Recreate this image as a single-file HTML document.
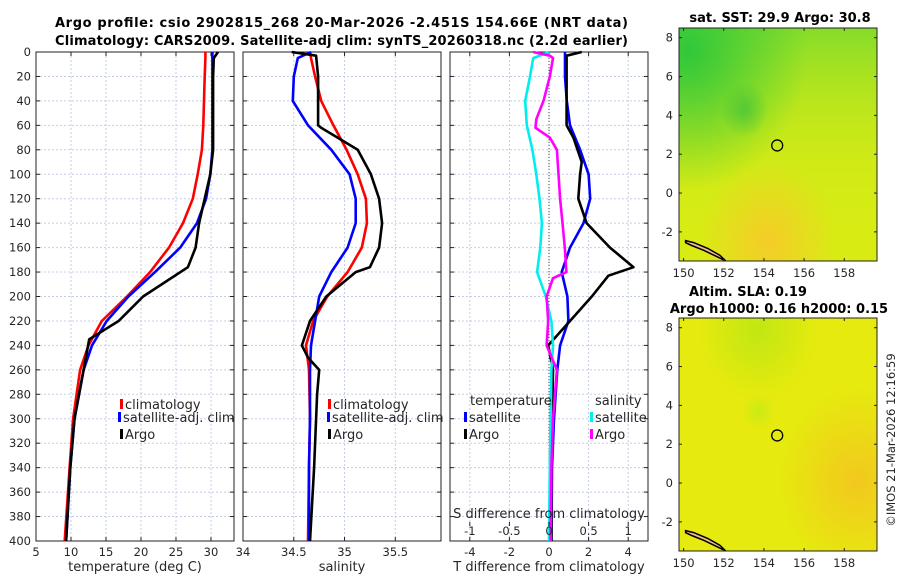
<!DOCTYPE html>
<html><head><meta charset="utf-8">
<style>
html,body{margin:0;padding:0;background:#fff;}
svg{display:block;font-family:"DejaVu Sans","Liberation Sans",sans-serif;}
.tk{font-size:11.5px;fill:#262626;}
.ttl{font-size:13px;font-weight:bold;fill:#000;}
</style></head><body>
<svg id="fig" width="900" height="580" viewBox="0 0 900 580" xmlns="http://www.w3.org/2000/svg">
<defs>
<linearGradient id="g1v" x1="0" y1="0" x2="0" y2="1"><stop offset="0" stop-color="#70d830" stop-opacity="0.8"/><stop offset="0.55" stop-color="#b8e41c" stop-opacity="0.3"/><stop offset="1" stop-color="#d8ec14" stop-opacity="0"/></linearGradient>
<radialGradient id="g1a" cx="0.05" cy="0.1" r="0.6"><stop offset="0" stop-color="#30c83a"/><stop offset="1" stop-color="#30c83a" stop-opacity="0"/></radialGradient>
<radialGradient id="g1b" cx="0.45" cy="0.92" r="0.35"><stop offset="0" stop-color="#f5cc28"/><stop offset="1" stop-color="#f5cc28" stop-opacity="0"/></radialGradient>
<radialGradient id="g1c" cx="0.33" cy="0.35" r="0.12"><stop offset="0" stop-color="#48c43a" stop-opacity="0.8"/><stop offset="1" stop-color="#48c43a" stop-opacity="0"/></radialGradient>
<radialGradient id="g2a" cx="0.9" cy="0.7" r="0.4"><stop offset="0" stop-color="#f2c81e"/><stop offset="1" stop-color="#f2c81e" stop-opacity="0"/></radialGradient>
<radialGradient id="g2b" cx="0.4" cy="0.05" r="0.3"><stop offset="0" stop-color="#b8e614" stop-opacity="0.8"/><stop offset="1" stop-color="#b8e614" stop-opacity="0"/></radialGradient>
<radialGradient id="g2c" cx="0.4" cy="0.4" r="0.08"><stop offset="0" stop-color="#c4ea18" stop-opacity="0.8"/><stop offset="1" stop-color="#c4ea18" stop-opacity="0"/></radialGradient>
</defs>
<text class="ttl" x="55" y="27" textLength="573">Argo profile: csio 2902815_268 20-Mar-2026 -2.451S 154.66E (NRT data)</text>
<text class="ttl" x="55" y="45" textLength="573">Climatology: CARS2009. Satellite-adj clim: synTS_20260318.nc (2.2d earlier)</text>
<g id="panels"></g>
<g id="maps"></g>
<text class="tk" transform="translate(895,440) rotate(-90)" text-anchor="middle">©IMOS 21-Mar-2026 12:16:59</text>
</svg>
<script>
// ---- data ----
const depths = [0,5,20,40,60,80,100,120,140,160,180,200,220,240,260,300,340,400];
const tempClim = [29.2,29.2,29.1,29.0,28.9,28.7,28.1,27.4,26.0,24.0,21.3,18.0,14.4,12.5,11.3,10.3,9.8,9.1];
const tempSat  = [30.2,30.2,30.2,30.2,30.2,30.2,29.9,29.3,28.0,25.6,22.0,18.2,15.1,13.0,11.8,10.5,9.9,9.3];
const argoTDepths = [0,5,20,40,60,80,100,140,160,176,200,220,235,260,300,340,400];
const tempArgo = [31.0,30.4,30.3,30.3,30.3,30.3,29.9,28.3,27.8,26.7,20.3,16.8,12.6,11.8,10.5,9.9,9.3];
const salClim = [34.66,34.67,34.71,34.77,34.89,35.02,35.13,35.21,35.22,35.17,35.03,34.83,34.69,34.62,34.65,34.66,34.65,34.64];
const salSat  = [34.67,34.54,34.50,34.49,34.64,34.87,35.05,35.11,35.11,35.03,34.87,34.75,34.71,34.67,34.66,34.66,34.65,34.65];
const argoSDepths = [0,3,20,40,60,62,80,100,120,140,160,176,180,200,220,240,250,260,280,300,340,400];
const salArgo = [34.48,34.72,34.74,34.74,34.74,34.77,35.13,35.26,35.34,35.37,35.34,35.25,35.11,34.82,34.66,34.58,34.64,34.75,34.73,34.72,34.70,34.66];
const dTSat = [0.81,0.81,0.81,0.9,1.06,1.57,2.0,2.08,1.74,1.06,0.64,0.93,0.98,0.56,0.42,0.25,0.15,0.12];
const dTArgoDepths = [0,3,20,40,60,70,90,100,120,140,160,176,183,200,220,240,260,300,340,400];
const dTArgo = [1.65,0.89,0.89,0.89,0.89,1.23,1.65,1.57,1.48,1.9,3.08,4.27,3.0,2.16,1.06,-0.04,0.2,0.15,0.12,0.12];
const dSSat = [0.0,-0.2,-0.24,-0.30,-0.28,-0.21,-0.16,-0.12,-0.09,-0.11,-0.15,-0.04,0.03,0.05,0.03,0.02,0.01,0.0];
const dSArgoDepths = [0,3,5,20,40,55,62,70,80,100,120,140,160,180,185,200,220,240,260,300,340,400];
const dSArgo = [-0.2,0.01,0.05,0.01,-0.07,-0.16,-0.17,0.01,0.10,0.12,0.14,0.17,0.20,0.22,0.05,-0.03,-0.01,-0.03,0.10,0.05,0.03,0.02];
const depthTicks = [0,20,40,60,80,100,120,140,160,180,200,220,240,260,280,300,320,340,360,380,400];
const tTicks = [5,10,15,20,25,30];
const sTicks = [34,34.5,35,35.5];
const dtTicks = [-4,-2,0,2,4];
const dsTicks = [-1,-0.5,0,0.5,1];
const lonTicks = [150,152,154,156,158];
const latTicks = [-2,0,2,4,6,8];
const argoLon = 154.66, argoLat = 2.451;

const NS="http://www.w3.org/2000/svg";
function mk(tag,attrs,parent,txt){const e=document.createElementNS(NS,tag);for(const k in attrs)e.setAttribute(k,attrs[k]);if(txt!==undefined)e.textContent=txt;parent.appendChild(e);return e;}
const P=document.getElementById('panels');
const Y0=52,Y1=541;
const yD=d=>Y0+(d/400)*(Y1-Y0);

function panel(name,x0,x1,vmin,vmax,ticks,labelFmt,xlabel,showY){
  const g=mk('g',{},P);
  
  
  const xs=v=>x0+(v-vmin)/(vmax-vmin)*(x1-x0);
  depthTicks.forEach(d=>{const l=mk('line',{x1:x0,x2:x1,y1:yD(d),y2:yD(d),stroke:'#c5cde6','stroke-width':1,'stroke-dasharray':'2,2'},g);
    
    mk('line',{x1:x0,x2:x0+4,y1:yD(d),y2:yD(d),stroke:'#222'},g);mk('line',{x1:x1-4,x2:x1,y1:yD(d),y2:yD(d),stroke:'#222'},g);
    if(showY){const t=mk('text',{x:x0-5,y:yD(d)+4,'text-anchor':'end',class:'tk'},g,String(d));}
  });
  ticks.forEach(v=>{const x=xs(v);
    const l=mk('line',{x1:x,x2:x,y1:Y0,y2:Y1,stroke:'#c5cde6','stroke-width':1,'stroke-dasharray':'2,2'},g);
    
    mk('line',{x1:x,x2:x,y1:Y0,y2:Y0+4,stroke:'#222'},g);mk('line',{x1:x,x2:x,y1:Y1-4,y2:Y1,stroke:'#222'},g);
    if(labelFmt){const t=mk('text',{x:x,y:Y1+15,'text-anchor':'middle',class:'tk'},g,labelFmt(v));}
  });
  const r=mk('rect',{x:x0,y:Y0,width:x1-x0,height:Y1-Y0,fill:'none',stroke:'#222','stroke-width':1},g);
  
  const xl=mk('text',{x:(x0+x1)/2,y:571,'text-anchor':'middle',class:'tk',style:'font-size:13px'},g,xlabel);
  
  return {g,xs};
}
function line(p,vals,ds,color,name){
  const pts=vals.map((v,i)=>p.xs(v).toFixed(1)+','+yD(ds[i]).toFixed(1)).join(' ');
  const l=mk('polyline',{points:pts,fill:'none',stroke:color,'stroke-width':2.6,'stroke-linejoin':'round'},p.g);
  
}
function legend(g,x,y,color,label){
  mk('rect',{x:x,y:y-10,width:3,height:10,fill:color},g);
  const t=mk('text',{x:x+5,y:y,class:'tk',style:'font-size:13px'},g,label);
  
}
// panel 1
const p1=panel('temperature-panel',36,234,5,33.29,tTicks,v=>String(v),'temperature (deg C)',true);
line(p1,tempClim,depths,'#ff0000','temp-climatology-line');
line(p1,tempSat,depths,'#0000ff','temp-satellite-line');
line(p1,tempArgo,argoTDepths,'#000','temp-argo-line');
legend(p1.g,120,409,'#ff0000','climatology');legend(p1.g,118,422,'#0000ff','satellite-adj. clim');legend(p1.g,120,439,'#000','Argo');
// panel 2
const p2=panel('salinity-panel',243,441,34,35.95,sTicks,v=>String(v),'salinity',false);
line(p2,salClim,depths,'#ff0000','sal-climatology-line');
line(p2,salSat,depths,'#0000ff','sal-satellite-line');
line(p2,salArgo,argoSDepths,'#000','sal-argo-line');
legend(p2.g,328,409,'#ff0000','climatology');legend(p2.g,327,422,'#0000ff','satellite-adj. clim');legend(p2.g,328,439,'#000','Argo');
// panel 3
const p3=panel('difference-panel',450,648,-5,5,dtTicks,v=>String(v),'T difference from climatology',false);
const zl=mk('line',{x1:p3.xs(0),x2:p3.xs(0),y1:Y0,y2:Y1,stroke:'#444','stroke-width':1,'stroke-dasharray':'1,2'},p3.g);

const sx=v=>p3.xs(v*4);
line(p3,dTSat,depths,'#0000ff','dT-satellite-line');
line(p3,dTArgo,dTArgoDepths,'#000','dT-argo-line');
line({g:p3.g,xs:sx},dSSat,depths,'#00eeee','dS-satellite-line');
line({g:p3.g,xs:sx},dSArgo,dSArgoDepths,'#ff00ff','dS-argo-line');
dsTicks.forEach(v=>{const x=sx(v);mk('line',{x1:x,x2:x,y1:522,y2:526,stroke:'#222'},p3.g);
  const t=mk('text',{x:x,y:535,'text-anchor':'middle',class:'tk'},p3.g,String(v));});
const st=mk('text',{x:549,y:518,'text-anchor':'middle',class:'tk',style:'font-size:13px'},p3.g,'S difference from climatology');

const tl=mk('text',{x:470,y:405,class:'tk',style:'font-size:13px'},p3.g,'temperature');
const sl=mk('text',{x:595,y:405,class:'tk',style:'font-size:13px'},p3.g,'salinity');
legend(p3.g,464,422,'#0000ff','satellite');legend(p3.g,464,439,'#000','Argo');
legend(p3.g,590,422,'#00eeee','satellite');legend(p3.g,590,439,'#ff00ff','Argo');

// maps
const M=document.getElementById('maps');
function map(name,x0,y0,x1,y1,base,grads,titles){
  const g=mk('g',{},M);
  
  const lx=v=>x0+(v-149.77)/(159.63-149.77)*(x1-x0);
  const ly=v=>y0+(8.5-v)/12*(y1-y0);
  mk('rect',{x:x0,y:y0,width:x1-x0,height:y1-y0,fill:base},g);
  grads.forEach(id=>mk('rect',{x:x0,y:y0,width:x1-x0,height:y1-y0,fill:'url(#'+id+')'},g));
  const coast=[[150.1,-2.45],[150.5,-2.55],[151.2,-2.85],[151.8,-3.2],[152.1,-3.5],[151.7,-3.3],[151.0,-2.95],[150.4,-2.7],[150.1,-2.55]];
  const c=mk('polygon',{points:coast.map(p=>lx(p[0]).toFixed(1)+','+ly(p[1]).toFixed(1)).join(' '),fill:'#f0b890',stroke:'#000','stroke-width':1.5},g);
  
  const ci=mk('circle',{cx:lx(argoLon),cy:ly(argoLat),r:5.5,fill:'none',stroke:'#000','stroke-width':1.3},g);
  
  mk('rect',{x:x0,y:y0,width:x1-x0,height:y1-y0,fill:'none',stroke:'#222'},g);
  lonTicks.forEach(v=>{const x=lx(v);mk('line',{x1:x,x2:x,y1:y1,y2:y1-3,stroke:'#222'},g);mk('line',{x1:x,x2:x,y1:y0,y2:y0+3,stroke:'#222'},g);
    const t=mk('text',{x:x,y:y1+16,'text-anchor':'middle',class:'tk'},g,String(v));});
  latTicks.forEach(v=>{const y=ly(v);mk('line',{x1:x0,x2:x0+3,y1:y,y2:y,stroke:'#222'},g);mk('line',{x1:x1-3,x2:x1,y1:y,y2:y,stroke:'#222'},g);
    const t=mk('text',{x:x0-6,y:y+4,'text-anchor':'end',class:'tk'},g,String(v));});
  titles.forEach(tt=>{const t=mk('text',{x:tt[0],y:tt[1],'text-anchor':'middle',class:'ttl'},g,tt[2]);});
}
map('sst-map',679,28,877,261,'#d8ec14',['g1v','g1a','g1b','g1c'],[[780,22,'sat. SST: 29.9 Argo: 30.8']]);
map('sla-map',679,318,877,551,'#e6ea0e',['g2a','g2b','g2c'],[[748,296,'Altim. SLA: 0.19'],[779,313,'Argo h1000: 0.16 h2000: 0.15']]);
</script>
</body></html>
